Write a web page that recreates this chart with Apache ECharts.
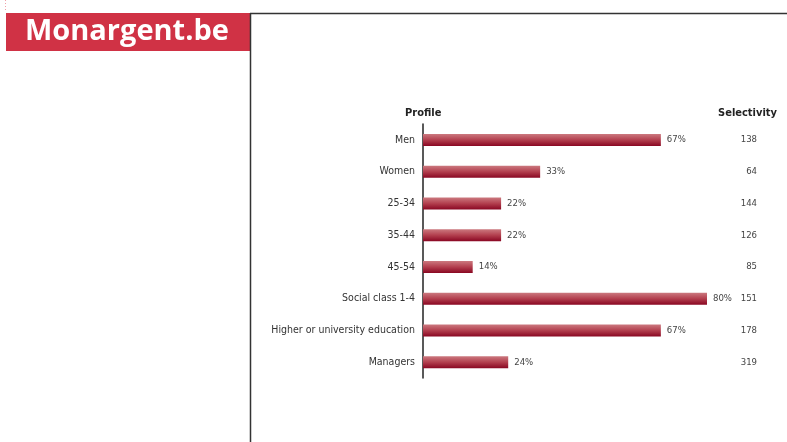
<!DOCTYPE html>
<html lang="en" style="height: 100%">
<head>
<meta charset="utf-8">
<title>Monargent.be profile</title>
</head>
<body style="height: 100%; margin: 0; background: #fff">
<div id="container" style="height: 100%"></div>
<script type="text/javascript" src="https://cdn.jsdelivr.net/npm/echarts/dist/echarts.min.js"></script>
<script type="text/javascript">

var categories = ['Men', 'Women', '25-34', '35-44', '45-54', 'Social class 1-4', 'Higher or university education', 'Managers'];
var shares = [67, 33, 22, 22, 14, 80, 67, 24];
var selectivity = [138, 64, 144, 126, 85, 151, 178, 319];

var dom = document.getElementById('container');
var myChart = echarts.init(dom, null, {width: 787, height: 442});

var font = "'DejaVu Sans Condensed', 'Noto Sans', sans-serif";

var option = {
    animation: false,
    grid: {left: 423, top: 124, width: 284, height: 254},
    xAxis: {
        type: 'value',
        min: 0,
        max: 80,
        show: false
    },
    yAxis: [
        {
            type: 'category',
            data: categories,
            inverse: true,
            axisLine: {show: true, onZero: false, lineStyle: {color: '#222', width: 1.5}},
            axisTick: {show: false},
            axisLabel: {margin: 8, color: '#333', fontSize: 10.5, fontFamily: font, padding: [3, 0, 0, 0]}
        },
        {
            type: 'category',
            position: 'right',
            data: selectivity.map(String),
            inverse: true,
            axisLine: {show: false},
            axisTick: {show: false},
            axisLabel: {margin: 50, align: 'right', color: '#444', fontSize: 9.5, fontFamily: font, padding: [3, 0, 0, 0]}
        }
    ],
    series: [
        {
            type: 'bar',
            data: shares,
            barWidth: 12,
            itemStyle: {
                color: new echarts.graphic.LinearGradient(0, 0, 0, 1, [
                    {offset: 0, color: '#cc7a80'},
                    {offset: 0.5, color: '#b3404f'},
                    {offset: 1, color: '#8a0823'}
                ])
            },
            label: {
                show: true,
                position: 'right',
                distance: 6,
                formatter: '{c}%',
                color: '#444',
                fontSize: 9.5,
                fontFamily: font,
                padding: [3, 0, 0, 0]
            }
        }
    ],
    graphic: [
        {type: 'rect', shape: {x: 6, y: 13, width: 244, height: 38}, style: {fill: '#d03245'}},
        {type: 'text', left: 25, top: 17, style: {text: 'Monargent.be', fill: '#fff', font: "bold 29px 'Open Sans', sans-serif"}},
        {type: 'line', shape: {x1: 250.5, y1: 13, x2: 250.5, y2: 442}, style: {stroke: '#333', lineWidth: 1.5}},
        {type: 'line', shape: {x1: 250, y1: 13.5, x2: 787, y2: 13.5}, style: {stroke: '#333', lineWidth: 1.5}},
        {type: 'line', shape: {x1: 5.5, y1: 0, x2: 5.5, y2: 12}, style: {stroke: '#f0a0a8', lineWidth: 1, lineDash: [1, 2]}},
        {type: 'text', left: 405, top: 108, style: {text: 'Profile', fill: '#222', font: "bold 11px " + font}},
        {type: 'text', right: 10, top: 108, style: {text: 'Selectivity', fill: '#222', font: "bold 11px " + font}}
    ]
};

myChart.setOption(option);
window.addEventListener('resize', myChart.resize);
</script>
</body>
</html>
